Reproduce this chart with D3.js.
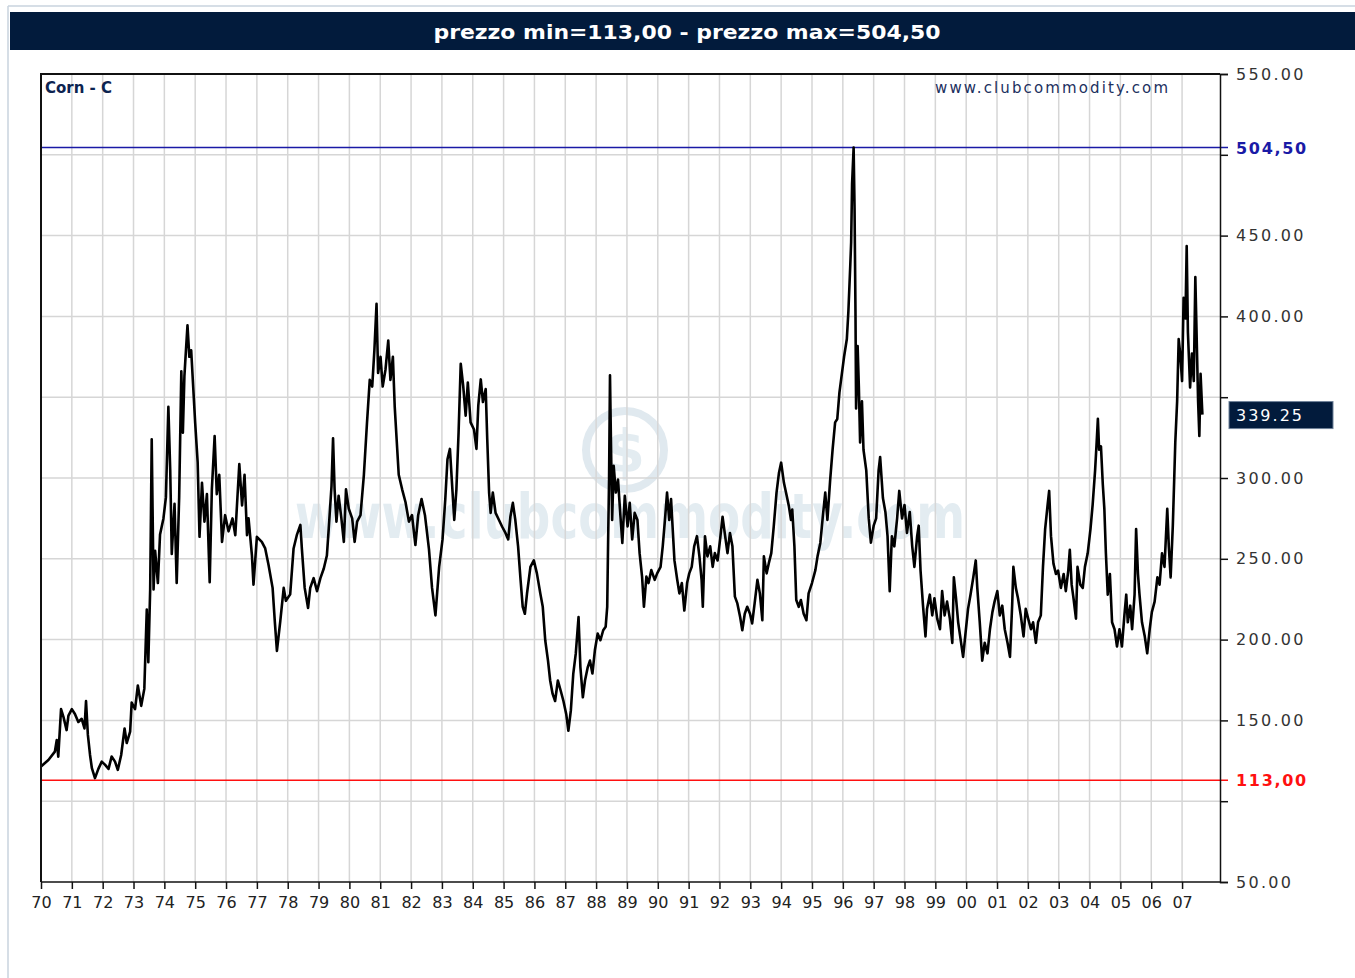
<!DOCTYPE html>
<html>
<head>
<meta charset="utf-8">
<title>Corn - C</title>
<script src="https://d3js.org/d3.v7.min.js"></script>
<style>
 body { margin: 0; background: #fff; }
 svg { display: block; }
</style>
</head>
<body>
<div id="chart"></div>
<script>
// chart values
var minPrice = 113.00, maxPrice = 504.50, lastPrice = 339.25;
var yearTicks = d3.range(1970, 2008);
var priceTicks = d3.range(50, 551, 50);
var priceLabels = [550, 450, 400, 300, 250, 200, 150, 50];

var dates = [
 1970.00,1970.24,1970.45,1970.51,1970.56,1970.65,1970.73,1970.83,1970.89,1971.00,
 1971.10,1971.21,1971.32,1971.41,1971.46,1971.52,1971.59,1971.65,1971.75,1971.86,
 1971.97,1972.08,1972.19,1972.29,1972.40,1972.49,1972.60,1972.71,1972.78,1972.89,
 1972.94,1973.05,1973.14,1973.25,1973.35,1973.43,1973.48,1973.54,1973.59,1973.65,
 1973.70,1973.79,1973.86,1973.97,1974.05,1974.13,1974.19,1974.24,1974.33,1974.40,
 1974.48,1974.55,1974.60,1974.65,1974.70,1974.75,1974.81,1974.87,1974.94,1975.00,
 1975.08,1975.14,1975.22,1975.30,1975.38,1975.47,1975.54,1975.63,1975.70,1975.78,
 1975.87,1975.97,1976.08,1976.21,1976.30,1976.43,1976.52,1976.60,1976.68,1976.73,
 1976.84,1976.89,1977.00,1977.16,1977.27,1977.38,1977.51,1977.58,1977.65,1977.76,
 1977.87,1977.94,1978.08,1978.19,1978.30,1978.41,1978.46,1978.55,1978.66,1978.73,
 1978.84,1978.95,1979.06,1979.17,1979.27,1979.33,1979.42,1979.47,1979.52,1979.58,
 1979.65,1979.74,1979.82,1979.89,1979.98,1980.09,1980.17,1980.25,1980.36,1980.47,
 1980.57,1980.66,1980.74,1980.81,1980.88,1980.93,1981.01,1981.08,1981.17,1981.26,
 1981.33,1981.41,1981.47,1981.55,1981.60,1981.71,1981.82,1981.93,1982.03,1982.14,
 1982.23,1982.34,1982.45,1982.58,1982.68,1982.79,
 1982.91,1983.02,1983.11,1983.18,1983.26,1983.32,1983.40,1983.47,1983.54,1983.61,
 1983.69,1983.77,1983.84,1983.93,1984.04,1984.12,1984.18,1984.26,1984.33,1984.42,
 1984.47,1984.53,1984.58,1984.65,1984.74,1984.85,1984.95,1985.06,1985.15,1985.22,
 1985.30,1985.38,1985.47,1985.55,1985.62,1985.69,1985.76,1985.87,1985.98,1986.08,
 1986.19,1986.27,1986.35,1986.44,1986.51,1986.59,1986.67,1986.76,1986.85,1986.94,
 1987.03,1987.10,1987.18,1987.26,1987.34,1987.43,1987.49,1987.57,1987.64,1987.73,
 1987.80,1987.88,1987.96,1988.05,1988.14,1988.23,1988.31,1988.36,1988.39,1988.42,
 1988.45,1988.48,1988.52,1988.57,1988.64,1988.71,1988.79,1988.85,1988.93,1989.02,
 1989.09,1989.17,1989.25,1989.34,1989.41,1989.49,1989.55,1989.63,1989.70,1989.79,
 1989.90,1989.98,1990.09,1990.16,1990.24,1990.30,1990.37,1990.43,1990.49,1990.54,
 1990.63,1990.70,1990.78,1990.86,1990.95,1991.02,1991.10,1991.18,1991.27,1991.35,
 1991.42,1991.46,1991.53,1991.61,1991.70,1991.78,1991.85,1991.94,1992.02,1992.10,
 1992.17,1992.26,1992.34,1992.42,1992.50,1992.58,1992.67,1992.74,1992.82,1992.90,
 1992.99,1993.06,1993.14,1993.23,1993.31,1993.39,1993.44,1993.53,1993.60,1993.68,
 1993.76,1993.85,1993.93,1994.00,1994.09,1994.18,1994.25,1994.32,1994.36,1994.43,
 1994.49,1994.57,1994.64,1994.73,1994.82,1994.89,1995.00,1995.11,1995.18,1995.27,
 1995.35,1995.43,1995.50,1995.59,1995.67,1995.75,1995.82,1995.89,
 1996.04,1996.13,1996.18,1996.24,1996.27,1996.30,1996.35,1996.38,1996.41,1996.43,
 1996.48,1996.52,1996.56,1996.62,1996.67,1996.76,1996.84,1996.91,1997.00,1997.08,
 1997.16,1997.21,1997.30,1997.38,1997.45,1997.52,1997.59,1997.67,1997.76,1997.83,
 1997.92,1998.00,1998.08,1998.17,1998.25,1998.32,1998.41,1998.46,1998.52,1998.60,
 1998.68,1998.73,1998.82,1998.90,1998.97,1999.06,1999.15,1999.22,1999.30,1999.38,
 1999.47,1999.55,1999.60,1999.67,1999.74,1999.82,1999.90,1999.98,2000.06,2000.14,
 2000.23,2000.31,2000.36,2000.44,2000.52,2000.60,2000.69,2000.77,2000.85,2000.92,
 2001.01,2001.09,2001.17,2001.25,2001.34,2001.42,2001.49,2001.53,2001.61,2001.68,
 2001.77,2001.86,2001.93,2002.01,2002.10,2002.17,2002.26,2002.33,2002.42,2002.49,
 2002.56,2002.64,2002.69,2002.75,2002.83,2002.91,2002.98,2003.07,2003.16,2003.23,
 2003.31,2003.36,2003.42,2003.48,2003.56,2003.61,2003.70,2003.78,2003.85,2003.94,
 2004.03,2004.10,2004.18,2004.23,2004.27,2004.31,2004.37,2004.43,2004.48,2004.53,
 2004.59,2004.66,2004.73,2004.81,2004.89,2004.97,2005.05,2005.13,2005.19,2005.24,
 2005.32,2005.38,2005.46,2005.51,2005.57,2005.62,2005.70,2005.79,2005.87,2005.95,
 2006.02,2006.11,2006.20,2006.27,2006.35,2006.43,2006.52,2006.57,2006.63,2006.70,
 2006.74,2006.78,2006.84,2006.89,2006.94,2007.00,2007.05,2007.11,2007.15,2007.19,
 2007.26,2007.32,2007.38,2007.43,2007.47,2007.52,2007.56,2007.60,2007.65,2007.66
];

var prices = [
 121.5,125.5,130.7,137.8,127.6,157,152,144,153,157,
 154,149,151,145,162,141,128.6,120.4,114.3,120,
 124.5,122.5,120,127.6,124.5,119.4,128.6,145,136,143,
 161,157,171.6,159,169.5,218.6,186,231,324,231,
 255,235,265,275,288,344,305,253,284,235,
 288,366,328,363,379,394.5,375,379,354.6,334,
 309.6,263.6,297,273,290,235.5,293,326,290,302,
 260.5,277,267,275,264.6,308.6,283,302,264.6,275,
 252,234,263.6,260.5,256.4,246,232,211.6,193,211.6,
 232,224,228,256.4,265,271,256,232,219.6,232,
 238,230,238,244,252,268.7,295,324.6,293,273,
 289,275,260.5,293,281,275,260.5,273,277,302,
 334,360.7,356.6,379,407.8,365,375,356.6,367,385,
 360.7,375,344,318,302,293,285,273,277,258.5,
 277,287,277,256,232,215,
 245,262,287,311.6,318,299,274,293,328,370.7,
 357,338.6,359,334.4,330,318,345,361,347,355,
 324,291,278.4,291,278.4,274,270,266,262,276,
 284.6,274,257.7,237,220.3,216,228.6,245,249,241,
 228.6,220.3,199.6,187,174.7,166.4,162,174.7,168.5,162,
 154,143.6,156,179,191.3,214,183,164.3,174.7,183,
 187,179,193.4,203.7,199.6,205.8,208,220.3,262,299,
 363.5,324,274,307.5,291,299,276,259.8,289,270,
 284.6,262,278.4,274,253.5,239,220.3,239,235,243,
 237,241,245,257.7,276,291,274,287,266,249,
 237,228.6,235,218,235,241,245,257.7,264,251.5,
 237,220.3,264,251.5,257.7,245,253.5,249,262,276,
 266,253.5,266,257.7,226.6,222.4,214,205.8,216,220.3,
 216,210,222.4,237,228.6,212,251.5,241,247.3,253.5,
 270,291,303.3,309.5,297,289,282.6,274,280.5,257.7,
 224.5,220.3,224.5,216,212,228.6,235,243,251.5,259.8,
 276,291,274,299,318,334.4,336.5,353,
 375,386,403,431,446,482,504.5,467,403,343,
 381.6,356,322,347.4,317.5,304.7,275,260,270.5,275,
 304.7,313,287.6,279,264,230,264,257.7,275,292,
 275,283.3,266,279,257.7,245,264,270.5,242.7,221,
 202,219,227.8,215,225.6,213,206.4,230,215,223.5,
 213,198,238.5,225.6,210.7,200,189.3,204.3,219,227.8,
 238.5,249,232,210.7,187,198,191.5,206.4,217,223.5,
 230,215,221,206.4,198,189.3,221,245,232,225.6,
 215,202,219,213,206.4,210.7,198,210.7,215,245,
 268.4,283.3,292,264,247,240.6,242.7,232,240.6,230,
 242.7,255.5,234,225.6,213,245,234,232,245,253.4,
 268.4,283.3,304.7,322,336.7,317.5,319.6,296,281,253.4,
 227.8,240.6,210.7,206.4,195.7,206.4,195.7,215,227.8,210.7,
 221,206.4,227.8,268.4,240.6,227.8,210.7,202,191.5,206.4,
 217,223.5,238.5,234,253.4,245,281,257.7,238.5,270.5,
 296,322,347.4,386,377,360,411.5,398.7,443.6,390,
 356,377,360,424.4,390,347.4,326,364.5,343,339.25
];

var series = dates.map(function(d, i) { return { t: d, p: prices[i] }; });

var W = 1355, H = 978;
var navy = "#021b3c";
var svg = d3.select("#chart").append("svg").attr("width", W).attr("height", H);

// page frame
svg.append("line").attr("x1", 8).attr("y1", 6).attr("x2", W).attr("y2", 6)
  .attr("stroke", "#c9d3de").attr("stroke-width", 1.5);
svg.append("line").attr("x1", 8).attr("y1", 6).attr("x2", 8).attr("y2", H)
  .attr("stroke", "#c9d3de").attr("stroke-width", 1.5);

// title bar
svg.append("rect").attr("x", 10).attr("y", 12).attr("width", W - 10).attr("height", 38)
  .attr("fill", navy);
svg.append("text").attr("x", 687).attr("y", 32)
  .attr("text-anchor", "middle").attr("dominant-baseline", "central")
  .attr("fill", "#fff").style("font", "bold 20px 'DejaVu Sans'")
  .attr("textLength", 507).attr("lengthAdjust", "spacingAndGlyphs")
  .text("prezzo min=113,00 - prezzo max=504,50");

var x = d3.scaleLinear().domain([1970, 2008.23]).range([41, 1220]);
var y = d3.scaleLinear().domain([50, 550]).range([882, 74]);

// watermark
var wm = svg.append("g").attr("fill", "#e3ecf1");
wm.append("circle").attr("cx", 625).attr("cy", 450).attr("r", 39)
  .attr("fill", "none").attr("stroke", "#e0e9ef").attr("stroke-width", 8);
wm.append("text").attr("x", 625).attr("y", 452).attr("text-anchor", "middle")
  .attr("dominant-baseline", "central").style("font", "bold 58px 'DejaVu Sans'")
  .text("$");
wm.append("text").attr("x", 630).attr("y", 538).attr("text-anchor", "middle")
  .style("font", "bold 62px 'DejaVu Sans'")
  .attr("textLength", 670).attr("lengthAdjust", "spacingAndGlyphs")
  .text("www.clubcommodity.com");

// grid
var grid = svg.append("g").attr("stroke", "#d6d6d6").attr("stroke-width", 1.5);
grid.selectAll(".vg").data(yearTicks.slice(1)).enter().append("line")
  .attr("x1", function(d) { return x(d); }).attr("x2", function(d) { return x(d); })
  .attr("y1", y(550)).attr("y2", y(50));
grid.selectAll(".hg").data(priceTicks.slice(1, -1)).enter().append("line")
  .attr("x1", x.range()[0]).attr("x2", x.range()[1])
  .attr("y1", function(d) { return y(d); }).attr("y2", function(d) { return y(d); });

// min / max lines
svg.append("line").attr("x1", x.range()[0]).attr("x2", 1228)
  .attr("y1", y(maxPrice)).attr("y2", y(maxPrice))
  .attr("stroke", "#1a1aa6").attr("stroke-width", 1.5);
svg.append("line").attr("x1", x.range()[0]).attr("x2", 1228)
  .attr("y1", y(minPrice)).attr("y2", y(minPrice))
  .attr("stroke", "#ff1010").attr("stroke-width", 1.5);

// price line
var line = d3.line().x(function(d) { return x(d.t); }).y(function(d) { return y(d.p); });
svg.append("path").datum(series).attr("d", line)
  .attr("fill", "none").attr("stroke", "#000").attr("stroke-width", 2.6)
  .attr("stroke-linejoin", "round");

// frame
svg.append("path")
  .attr("d", "M" + x.range()[0] + "," + y(50) + "V" + y(550) + "H" + x.range()[1])
  .attr("fill", "none").attr("stroke", "#111").attr("stroke-width", 2);

// axes
var yAxis = d3.axisRight(y).tickValues(priceTicks).tickSize(8).tickFormat("");
svg.append("g").attr("transform", "translate(" + x.range()[1] + ",0)").call(yAxis)
  .call(function(g) { g.selectAll("path, line").attr("stroke", "#111").attr("stroke-width", 1.5); });

var xAxis = d3.axisBottom(x).tickValues(yearTicks).tickSize(7).tickSizeOuter(0)
  .tickFormat(function(d) { return d3.format("02d")(d % 100); });
svg.append("g").attr("transform", "translate(0," + y(50) + ")").call(xAxis)
  .call(function(g) {
    g.select(".domain").attr("stroke", "#111").attr("stroke-width", 1.5)
      .attr("d", "M" + x.range()[0] + ",0H" + x.range()[1]);
    g.selectAll("line").attr("stroke", "#111").attr("stroke-width", 1.5);
    g.selectAll("text").attr("y", 15).attr("fill", "#222")
      .style("font", "16px 'DejaVu Sans'");
  });

// right labels
svg.selectAll(".pl").data(priceLabels).enter().append("text")
  .attr("x", 1236).attr("y", function(d) { return y(d); })
  .attr("dominant-baseline", "central").attr("fill", "#333")
  .style("font", "16px 'DejaVu Sans'").style("letter-spacing", "2.3px")
  .text(function(d) { return d3.format(".2f")(d); });

svg.append("text").attr("x", 1236).attr("y", y(maxPrice) + 1)
  .attr("dominant-baseline", "central").attr("fill", "#1a1aa6")
  .style("font", "bold 16px 'DejaVu Sans'").style("letter-spacing", "1.7px")
  .text(d3.format(".2f")(maxPrice).replace(".", ","));
svg.append("text").attr("x", 1236).attr("y", y(minPrice))
  .attr("dominant-baseline", "central").attr("fill", "#ff1010")
  .style("font", "bold 16px 'DejaVu Sans'").style("letter-spacing", "1.7px")
  .text(d3.format(".2f")(minPrice).replace(".", ","));

// last price box
svg.append("rect").attr("x", 1229).attr("y", y(lastPrice) - 13).attr("width", 104).attr("height", 27)
  .attr("fill", navy).attr("stroke", "#6f8299").attr("stroke-width", 1);
svg.append("text").attr("x", 1236).attr("y", y(lastPrice) + 1)
  .attr("dominant-baseline", "central").attr("fill", "#fff")
  .style("font", "16px 'DejaVu Sans'").style("letter-spacing", "2px")
  .text(d3.format(".2f")(lastPrice));

// labels inside plot
svg.append("text").attr("x", 45).attr("y", 88).attr("dominant-baseline", "central")
  .attr("fill", "#0c2350").style("font", "bold 15px 'DejaVu Sans'")
  .text("Corn - C");
svg.append("text").attr("x", 935).attr("y", 88).attr("dominant-baseline", "central")
  .attr("fill", "#1c3060").style("font", "15px 'DejaVu Sans'")
  .attr("textLength", 233).attr("lengthAdjust", "spacing")
  .text("www.clubcommodity.com");
</script>
</body>
</html>
